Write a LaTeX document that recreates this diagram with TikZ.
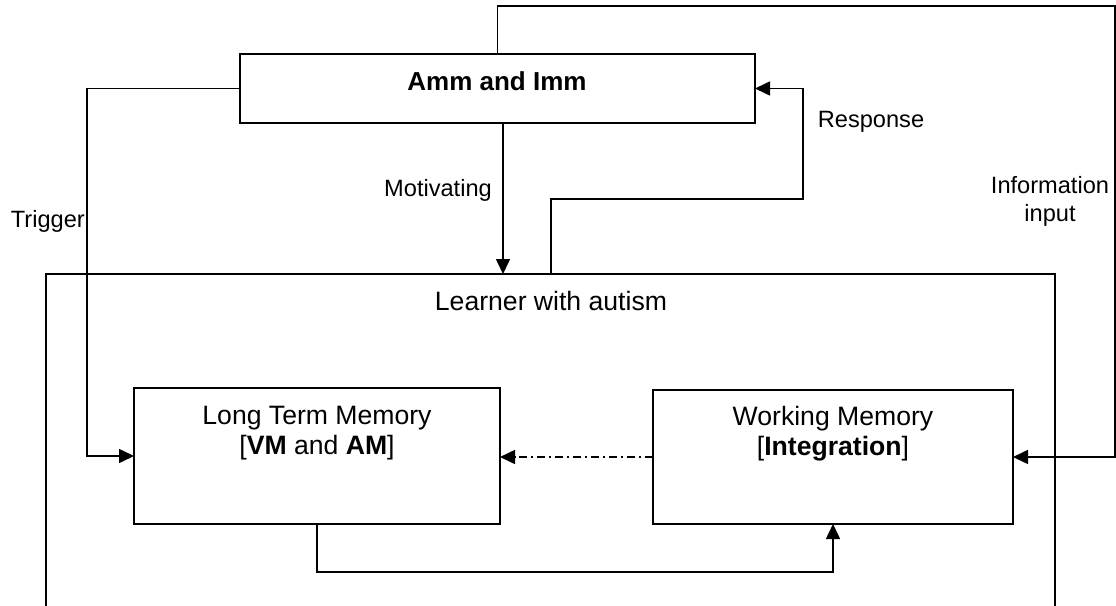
\documentclass[tikz,border=0pt]{standalone}
\usepackage{fontspec}
\setmainfont{Liberation Sans}
\usetikzlibrary{arrows.meta,calc}
\begin{document}
\begin{tikzpicture}[x=1pt,y=-1pt,
  box/.style={draw, line width=1.6pt, inner sep=0pt, outer sep=0pt},
  conn/.style={line width=1.6pt},
  arr/.style={conn, -{Triangle[length=15pt,width=14pt]}},
  boxtext/.style={font=\fontsize{26.6}{30}\selectfont, anchor=base, inner sep=0pt},
  lbl/.style={font=\fontsize{23.6}{28}\selectfont, anchor=base, inner sep=0pt}]
\useasboundingbox (0,0) rectangle (1116,605);
\clip (0,0) rectangle (1116,605);

% boxes
\node[box, minimum width=515, minimum height=69] (amm) at (497.5,88.5) {};
\node[boxtext, font=\fontsize{26}{30}\selectfont\bfseries] (ammtext) at (497,90) {Amm and Imm};

\node[box, minimum width=1009, minimum height=366] (learner) at (550.5,457) {};
\node[boxtext] (learnertext) at (551,310) {Learner with autism};

\node[box, minimum width=366, minimum height=136] (ltm) at (317,456) {};
\node[boxtext] (ltm1) at (317,424) {Long Term Memory};
\node[boxtext] (ltm2) at (317,454) {[\textbf{VM} and \textbf{AM}]};

\node[box, minimum width=360, minimum height=134] (wm) at (833,457) {};
\node[boxtext] (wm1) at (833,425) {Working Memory};
\node[boxtext] (wm2) at (833,455) {[\textbf{Integration}]};

% labels
\node[lbl, anchor=base east] (trigger) at (85,227) {Trigger};
\node[lbl] (motivating) at (438,196) {Motivating};
\node[lbl] (response) at (871,127) {Response};
\node[lbl] (info1) at (1050,193) {Information};
\node[lbl] (info2) at (1050,221) {input};

% connectors
\coordinate (tl) at (497.5,6);
\coordinate (tr) at (1115,6);
\draw[arr] (amm.north) -- (amm.north |- tl) -- (tr) -- (tr |- wm.east) -- (wm.east);

\coordinate (trig) at (87,88);
\draw[arr] (amm.west) -- (amm.west -| trig) -- (trig |- ltm.west) -- (ltm.west);

\coordinate (mot) at (503,123);
\draw[arr] (mot) -- (mot |- learner.north);

\coordinate (resp) at (551,199);
\coordinate (respR) at (803,199);
\draw[arr] (resp |- learner.north) -- (resp) -- (respR) -- (respR |- amm.east) -- (amm.east);

\draw[conn, dash pattern=on 8pt off 4pt on 2pt off 4pt, -{Triangle[length=15pt,width=14pt]}] (wm.west) -- (wm.west -| ltm.east);

\coordinate (bot) at (317,572);
\draw[arr] (ltm.south) -- (bot) -- (bot -| wm.south) -- (wm.south);
\end{tikzpicture}
\end{document}
